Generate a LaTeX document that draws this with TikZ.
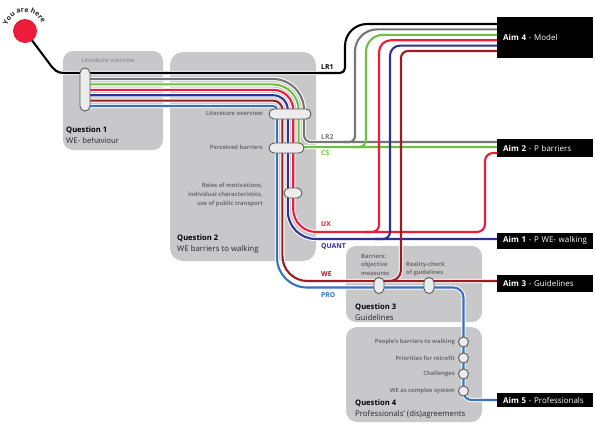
\documentclass[tikz,border=0pt]{standalone}
\usepackage{fontspec}
\setmainfont{Open Sans}
\usetikzlibrary{decorations.text}

\definecolor{cGray}{RGB}{118,118,120}
\definecolor{cGreen}{RGB}{112,190,68}
\definecolor{cRed}{RGB}{236,28,58}
\definecolor{cNavy}{RGB}{46,49,146}
\definecolor{cWine}{RGB}{158,27,34}
\definecolor{cSky}{RGB}{58,112,192}
\definecolor{qfill}{RGB}{200,200,202}
\definecolor{stopfill}{RGB}{236,236,236}
\definecolor{stopline}{RGB}{90,90,90}
\definecolor{lbl}{RGB}{110,110,110}
\definecolor{lblq}{RGB}{125,125,125}

% corner helpers (pixel coordinates, y downwards)
\newcommand\cRD[3]{-- ({#1-#3},#2) arc[start angle=-90,end angle=0,radius=#3]}
\newcommand\cDR[3]{-- (#1,{#2-#3}) arc[start angle=180,end angle=90,radius=#3]}
\newcommand\cRU[3]{-- ({#1-#3},#2) arc[start angle=90,end angle=0,radius=#3]}
\newcommand\cUR[3]{-- (#1,{#2+#3}) arc[start angle=180,end angle=270,radius=#3]}

\newcommand\Pblack{(25,31) -- (49,63) .. controls (54,70) and (57,73) .. (64,73) \cRU{345}{73}{5} \cUR{345}{24}{22} -- (497,24)}
\newcommand\Pgray{(85,79) \cRD{304}{79}{31} \cDR{304}{142}{7} -- (497,142)}
\newcommand\Bgray{(343,142) \cRU{355}{142}{6} \cUR{355}{29.4}{22} -- (497,29.4)}
\newcommand\Pgreen{(85,84.4) \cRD{298.6}{84.4}{25.6} \cDR{298.6}{147}{4} -- (497,147)}
\newcommand\Bgreen{(352,147) \cRU{366}{147}{7} \cUR{366}{34.8}{17} -- (497,34.8)}
\newcommand\Pred{(85,89.8) \cRD{293.2}{89.8}{20.2} \cDR{293.2}{232}{23} \cRU{485}{232}{8} \cUR{485}{153}{8} -- (497,153)}
\newcommand\Bred{(365,232) \cRU{379}{232}{7} \cUR{379}{40.2}{12} -- (497,40.2)}
\newcommand\Pnavy{(85,95.2) \cRD{287.8}{95.2}{14.8} \cDR{287.8}{239}{28} -- (497,239)}
\newcommand\Bnavy{(375,239) \cRU{390}{239}{7} \cUR{390}{45.6}{10} -- (497,45.6)}
\newcommand\Pwine{(85,100.6) \cRD{282.4}{100.6}{9.4} \cDR{282.4}{281}{25} -- (497,281)}
\newcommand\Bwine{(379,281) \cRU{401}{281}{11} \cUR{401}{51}{7} -- (497,51)}
\newcommand\Psky{(85,106) \cRD{277}{106}{4} \cDR{277}{287.5}{30} \cRD{463.5}{287.5}{10} \cDR{463.5}{400}{8} -- (497,400)}

\tikzset{
  casing/.style={line width=4.2pt, draw=white},
  route/.style={line width=2.1pt},
  qbox/.style={fill=qfill, draw=none},
  stopv/.style={draw=stopline, fill=stopfill, line width=0.9pt, rounded corners=4.9pt, inner sep=0pt, minimum width=10pt},
  stopc/.style={circle, draw=stopline, fill=stopfill, line width=0.9pt, minimum size=10pt, inner sep=0pt},
  aim/.style={fill=black, text=white, anchor=north west, inner xsep=6pt, inner ysep=0pt, minimum width=96pt, text width=84pt, align=left, font=\fontsize{8}{9}\selectfont},
  stoplbl/.style={inner sep=0pt, text=lbl, font=\bfseries\fontsize{5.8}{8.6}\selectfont},
  qtitle/.style={inner sep=0pt, anchor=base west, font=\bfseries\fontsize{7.6}{9}\selectfont, text=black},
  qdesc/.style={inner sep=0pt, anchor=base west, font=\fontsize{7.8}{9}\selectfont, text=black!85},
  linelbl/.style={inner sep=0pt, anchor=west, font=\bfseries\fontsize{6.8}{8}\selectfont},
}

\begin{document}
\begin{tikzpicture}[x=1pt,y=-1pt]
\useasboundingbox (0,0) rectangle (595,429);
\fill[white] (0,0) rectangle (595,429);

% question areas
\fill[qbox, rounded corners=10pt] (63,51) rectangle (163,150);
\fill[qbox, rounded corners=13pt] (170,52) rectangle (316,261);
\fill[qbox, rounded corners=10pt] (346,246) rectangle (482,322);
\fill[qbox, rounded corners=11pt] (346,327) rectangle (482,422);

% casings
\foreach \p in {\Pblack,\Pgray,\Pgreen,\Pred,\Pnavy,\Pwine,\Psky,\Bgray,\Bgreen,\Bred,\Bnavy,\Bwine}{
  \draw[casing] \p;
}
% coloured routes
\draw[route, black] \Pblack;
\draw[route, cGray] \Pgray;
\draw[route, cGreen] \Pgreen;
\draw[route, cRed] \Pred;
\draw[route, cNavy] \Pnavy;
\draw[route, cWine] \Pwine;
\draw[route, cSky] \Psky;
\draw[route, cGray] \Bgray;
\draw[route, cGreen] \Bgreen;
\draw[route, cRed] \Bred;
\draw[route, cNavy] \Bnavy;
\draw[route, cWine] \Bwine;

% start point
\node[circle, fill=cRed, minimum size=24pt, inner sep=0pt] (here) at (25,31) {};
\path[decoration={text along path, text={|\bfseries\fontsize{7}{8}\selectfont|You are here}, text align=center, text color=black!85}, decorate]
  (7.1,25.8) arc[start angle=-164, end angle=-22, radius=18.6];

% stops
\node[stopv, minimum height=43pt] (s11) at (85,89.5) {};
\node[stopv, minimum width=42pt, minimum height=10pt] (s21) at (290,114) {};
\node[stopv, minimum width=35pt, minimum height=10pt] (s22) at (286.5,148) {};
\node[stopv, minimum width=18pt, minimum height=10pt] (s23) at (293,193) {};
\node[stopv, minimum height=16pt] (s31) at (379,285.5) {};
\node[stopv, minimum height=16pt] (s32) at (429,285.5) {};
\node[stopc] (s41) at (463.5,342) {};
\node[stopc] (s42) at (463.5,358) {};
\node[stopc] (s43) at (463.5,374) {};
\node[stopc] (s44) at (463.5,391) {};

% stop labels
\node[stoplbl, text=lblq, font=\fontsize{5.9}{8}\selectfont] (t11) at (108,60) {Literature overview};
\node[stoplbl, anchor=east] (t21) at (263,113.5) {Literature overview};
\node[stoplbl, anchor=east] (t22) at (263,147.5) {Perceived barriers};
\node[stoplbl, anchor=east, align=right] (t23) at (263,195) {Roles of motivations,\\individual characteristics,\\use of public transport};
\node[stoplbl, anchor=west, align=left] (t31) at (361,264.5) {Barriers:\\objective\\measures};
\node[stoplbl, anchor=west, align=left] (t32) at (406,268.8) {Reality-check\\of guidelines};
\node[stoplbl, anchor=east] (t41) at (455,341.5) {People's barriers to walking};
\node[stoplbl, anchor=east] (t42) at (455,358) {Priorities for retrofit};
\node[stoplbl, anchor=east] (t43) at (455,374) {Challenges};
\node[stoplbl, anchor=east] (t44) at (455,390.5) {WE as complex system};

% question titles
\node[qtitle] (q1t) at (66,132.5) {Question 1};
\node[qdesc] (q1d) at (66,143.5) {WE- behaviour};
\node[qtitle] (q2t) at (177,240.5) {Question 2};
\node[qdesc] (q2d) at (177,251.5) {WE barriers to walking};
\node[qtitle] (q3t) at (355,309.5) {Question 3};
\node[qdesc] (q3d) at (355,320.5) {Guidelines};
\node[qtitle] (q4t) at (355,405) {Question 4};
\node[qdesc] (q4d) at (355,416) {Professionals' (dis)agreements};

% line labels
\node[linelbl, text=black] (lr1) at (321,67.5) {LR1};
\node[linelbl, text=cGray] (lr2) at (321,137) {LR2};
\node[linelbl, text=cGreen] (lcs) at (321,153.5) {CS};
\node[linelbl, text=cRed] (lux) at (321,224) {UX};
\node[linelbl, text=cNavy] (lqu) at (321,246.5) {QUANT};
\node[linelbl, text=cWine] (lwe) at (321,274.5) {WE};
\node[linelbl, text=cSky] (lpro) at (321,295) {PRO};

% aims
\node[aim, minimum height=41pt] (a4) at (497,17) {\textbf{Aim 4} - Model};
\node[aim, minimum height=17.5pt] (a2) at (497,139.2) {\textbf{Aim 2} - P barriers};
\node[aim, minimum height=16pt] (a1) at (497,232.3) {\textbf{Aim 1} - P WE- walking};
\node[aim, minimum height=17.5pt] (a3) at (497,274.5) {\textbf{Aim 3} - Guidelines};
\node[aim, minimum height=14pt] (a5) at (497,393) {\textbf{Aim 5} - Professionals};
\end{tikzpicture}
\end{document}
